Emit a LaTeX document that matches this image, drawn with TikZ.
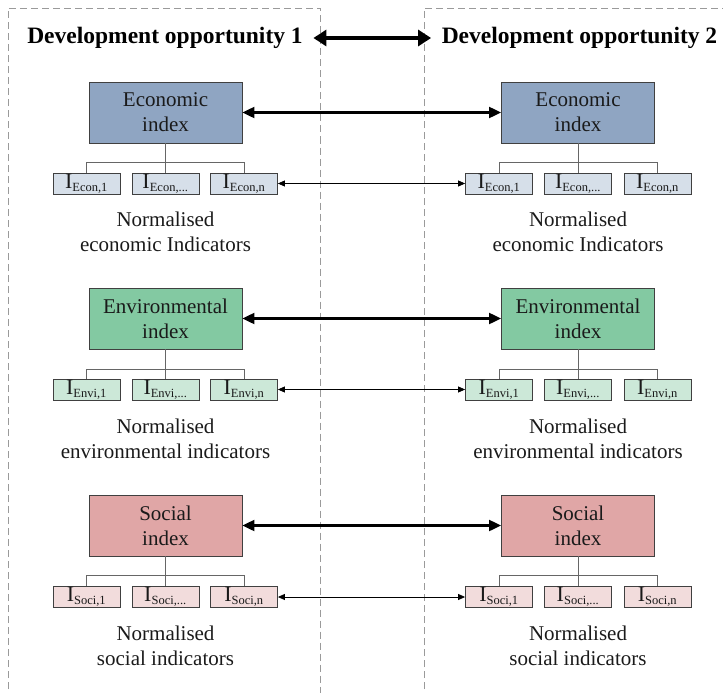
\documentclass[tikz,border=0pt]{standalone}
\usepackage{fontspec}
\setmainfont{Liberation Serif}
\usetikzlibrary{arrows.meta}
\definecolor{econD}{HTML}{8FA5C2}
\definecolor{econL}{HTML}{D6DFE9}
\definecolor{enviD}{HTML}{83C9A2}
\definecolor{enviL}{HTML}{CCE8D8}
\definecolor{sociD}{HTML}{E0A6A6}
\definecolor{sociL}{HTML}{F2DCDC}
\definecolor{bord}{HTML}{404040}
\definecolor{dashc}{HTML}{9A9A9A}
\definecolor{txt}{HTML}{1A1A1A}
\tikzset{
  idxbox/.style={draw=bord, line width=0.9pt, minimum width=153pt, minimum height=61pt, inner sep=0pt, align=center, text=txt, font=\fontsize{21}{25}\selectfont},
  indbox/.style={draw=bord, line width=0.8pt, minimum width=67pt, minimum height=21pt, inner sep=0pt, text=txt, font=\fontsize{22}{22}\selectfont},
  lab/.style={align=center, text=txt, font=\fontsize{21}{24.5}\selectfont, inner sep=0pt},
  title/.style={font=\fontsize{23.5}{27}\selectfont\bfseries, inner xsep=10.5pt, inner ysep=0pt},
  tree/.style={draw=bord!80, line width=0.8pt},
  dashbox/.style={draw=dashc, line width=0.9pt, dash pattern=on 7pt off 4pt},
  bigarr/.style={line width=2.2pt, {Triangle[length=12pt,width=11pt]}-{Triangle[length=12pt,width=11pt]}},
  smallarr/.style={line width=0.8pt, {Triangle[length=7pt,width=6pt]}-{Triangle[length=7pt,width=6pt]}},
  titlearr/.style={line width=4pt, {Triangle[length=13pt,width=16pt]}-{Triangle[length=13pt,width=16pt]}},
}
\newcommand{\ind}[2]{I\textsubscript{\fontsize{12.5}{13}\selectfont #1,#2}}
\begin{document}
\begin{tikzpicture}[x=1pt,y=-1pt]
\useasboundingbox (0,0) rectangle (723,693);
% dashed frames
\draw[dashbox] (8,700) -- (8,8) -- (320.5,8) -- (320.5,700);
\draw[dashbox] (424,700) -- (424,8) -- (730,8);
% titles
\node[title] (t1) at (165,38) {Development opportunity 1};
\node[title] (t2) at (579.5,38) {Development opportunity 2};
\draw[titlearr] (t1.east) -- (t2.west);

% rows
\foreach \nm/\Nm/\col/\yb/\ys/\ybr/\yl/\lbl/\sub in {
  econ/Economic/econ/112.5/183.5/162/232/economic Indicators/Econ,
  envi/Environmental/envi/318.5/389.5/369/439/environmental indicators/Envi,
  soci/Social/soci/525.5/597/575/646/social indicators/Soci}{
  \foreach \s/\xc/\xa/\xb/\xcc in {L/165.5/86.5/165.5/244, R/578/499/578/657.5}{
    \node[idxbox, fill=\col D] (\nm\s) at (\xc,\yb) {\Nm\\index};
    \node[indbox, fill=\col L] (\nm\s1) at (\xa,\ys) {\ind{\sub}{1}};
    \node[indbox, fill=\col L] (\nm\s2) at (\xb,\ys) {\ind{\sub}{...}};
    \node[indbox, fill=\col L] (\nm\s3) at (\xcc,\ys) {\ind{\sub}{n}};
    \coordinate (\nm\s b) at (\xc,\ybr);
    \draw[tree] (\nm\s.south) -- (\nm\s2.north);
    \draw[tree] (\nm\s1.north) -- (\nm\s1.north |- \nm\s b) -- (\nm\s3.north |- \nm\s b) -- (\nm\s3.north);
    \node[lab] (\nm\s lab) at (\xc,\yl) {Normalised\\\lbl};
  }
  \draw[bigarr] (\nm L.east) -- (\nm R.west);
  \draw[smallarr] (\nm L3.east) -- (\nm R1.west);
}
\end{tikzpicture}
\end{document}
